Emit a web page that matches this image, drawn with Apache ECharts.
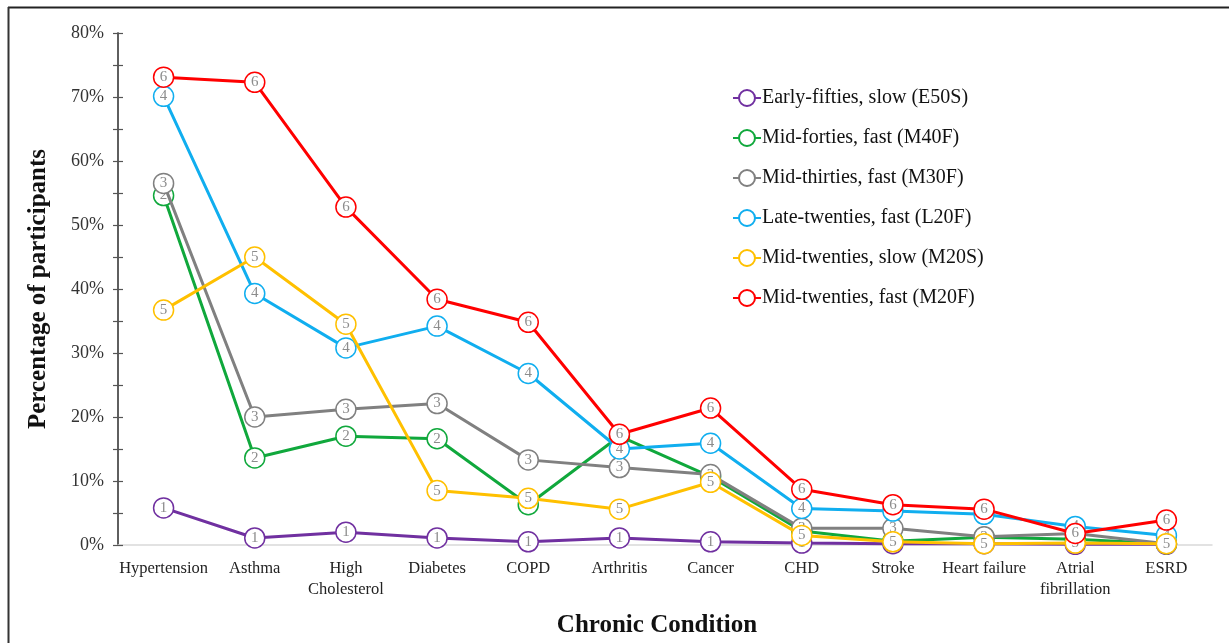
<!DOCTYPE html>
<html>
<head>
<meta charset="utf-8">
<script src="https://cdn.jsdelivr.net/npm/echarts@6/dist/echarts.min.js"></script>
<style>html,body{margin:0;padding:0;background:#fff;}#c{width:1229px;height:643px;}</style>
</head>
<body>
<div id="c"></div>
<script>
const categories = ['Hypertension','Asthma','High\nCholesterol','Diabetes','COPD','Arthritis','Cancer','CHD','Stroke','Heart failure','Atrial\nfibrillation','ESRD'];
const seriesNames = ['Early-fifties, slow (E50S)','Mid-forties, fast (M40F)','Mid-thirties, fast (M30F)','Late-twenties, fast (L20F)','Mid-twenties, slow (M20S)','Mid-twenties, fast (M20F)'];
const seriesColors = ['#7030A0','#10A83C','#808080','#10AEEF','#FFC000','#FF0000'];
const markerLabels = ['1','2','3','4','5','6'];
const e50s = [5.8, 1.1, 2.0, 1.1, 0.5, 1.1, 0.5, 0.3, 0.2, 0.2, 0.1, 0.1];
const m40f = [54.6, 13.6, 17.0, 16.6, 6.3, 17.0, 10.7, 2.2, 0.6, 1.2, 0.9, 0.2];
const m30f = [56.5, 20.0, 21.2, 22.1, 13.3, 12.1, 11.0, 2.6, 2.6, 1.3, 1.8, 0.2];
const l20f = [70.1, 39.3, 30.8, 34.2, 26.8, 15.0, 15.9, 5.7, 5.3, 4.8, 2.9, 1.5];
const m20s = [36.7, 45.0, 34.5, 8.5, 7.3, 5.6, 9.8, 1.5, 0.5, 0.2, 0.3, 0.2];
const m20f = [73.1, 72.3, 52.8, 38.4, 34.8, 17.3, 21.4, 8.7, 6.3, 5.6, 1.8, 3.9];
const yTickLabels = ['0%','10%','20%','30%','40%','50%','60%','70%','80%'];
const allData = [e50s, m40f, m30f, l20f, m20s, m20f];

const serif = '"Liberation Serif", "Times New Roman", serif';
const chart = echarts.init(document.getElementById('c'));
const series = allData.map((d, i) => ({
  name: seriesNames[i],
  type: 'line',
  data: d,
  symbol: 'circle',
  symbolSize: 20,
  showAllSymbol: true,
  lineStyle: { color: seriesColors[i], width: 3 },
  itemStyle: { color: '#fff', borderColor: seriesColors[i], borderWidth: 1.5 },
  label: {
    show: true, position: 'inside', formatter: markerLabels[i],
    color: '#8c8c8c', fontFamily: serif, fontSize: 15
  },
  emphasis: { disabled: true },
  z: 2 + i
}));

const yAxisBase = {
  type: 'value', min: 0, max: 80, interval: 5,
  splitLine: { show: false },
  axisLine: { show: true, lineStyle: { color: '#555', width: 1.5 } }
};

chart.setOption({
  animation: false,
  backgroundColor: '#fff',
  grid: { left: 118, right: 17, top: 33, bottom: 94, containLabel: false },
  legend: {
    orient: 'vertical', left: 727, top: 83, itemGap: 20,
    itemWidth: 28, itemHeight: 20,
    textStyle: { fontFamily: serif, fontSize: 20, color: '#111', padding: [0, 0, 0, -4] },
    data: seriesNames
  },
  xAxis: {
    type: 'category', data: categories, boundaryGap: true,
    axisLine: { lineStyle: { color: '#d9d9d9', width: 1.5 } },
    axisTick: { show: false },
    axisLabel: { interval: 0, fontFamily: serif, fontSize: 16.5, color: '#222', margin: 13, lineHeight: 21 },
    name: 'Chronic Condition', nameLocation: 'middle', nameGap: 68,
    nameTextStyle: { fontFamily: serif, fontSize: 25, fontWeight: 'bold', color: '#111', padding: [0, 16, 0, 0] }
  },
  yAxis: [
    Object.assign({}, yAxisBase, {
      axisTick: { show: true, length: 5, lineStyle: { color: '#555', width: 1.2 } },
      axisLabel: {
        fontFamily: serif, fontSize: 18, color: '#333', margin: 14,
        formatter: v => (v % 10 === 0 ? yTickLabels[v / 10] : '')
      },
      name: 'Percentage of participants', nameLocation: 'middle', nameGap: 67,
      nameTextStyle: { fontFamily: serif, fontSize: 25, fontWeight: 'bold', color: '#111' }
    }),
    Object.assign({}, yAxisBase, {
      position: 'left',
      axisTick: { show: true, inside: true, length: 5, lineStyle: { color: '#555', width: 1.2 } },
      axisLabel: { show: false }
    })
  ],
  graphic: [
    { type: 'line', shape: { x1: 8, y1: 7.5, x2: 1229, y2: 7.5 }, style: { stroke: '#222', lineWidth: 2 } },
    { type: 'line', shape: { x1: 8.5, y1: 7, x2: 8.5, y2: 643 }, style: { stroke: '#333', lineWidth: 2 } }
  ],
  series: series
});
</script>
</body>
</html>
